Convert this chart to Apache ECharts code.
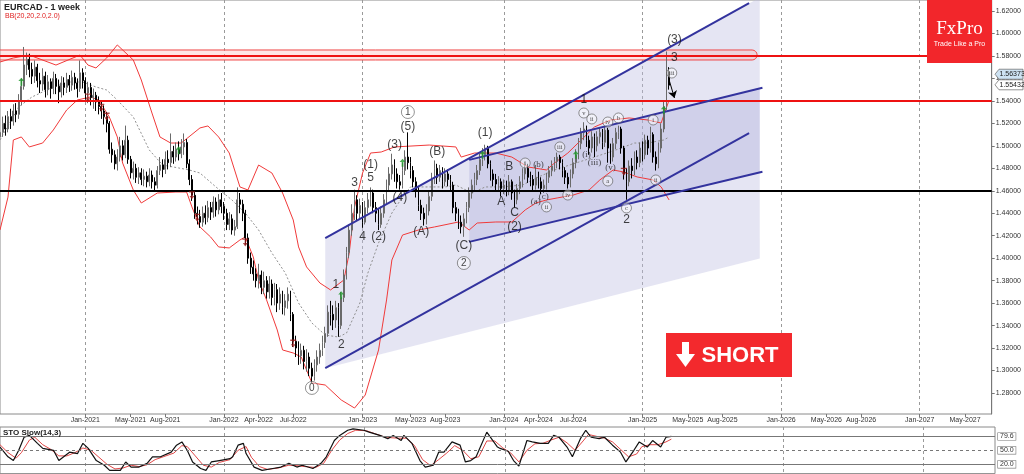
<!DOCTYPE html>
<html><head><meta charset="utf-8">
<script src="https://cdn.jsdelivr.net/npm/echarts/dist/echarts.min.js"></script>
<style>html,body{margin:0;padding:0;background:#fff}#c{width:1024px;height:474px}</style>
</head><body><div id="c"></div>
<script>
// ---------- data ----------
const firstWeek = '2020-05-24';
const weekCount = 373;
const xTickLabels = [['2021-01-03','Jan-2021'],['2021-05-02','May-2021'],['2021-08-01','Aug-2021'],['2022-01-02','Jan-2022'],['2022-04-03','Apr-2022'],['2022-07-03','Jul-2022'],['2023-01-01','Jan-2023'],['2023-05-07','May-2023'],['2023-08-06','Aug-2023'],['2024-01-07','Jan-2024'],['2024-04-07','Apr-2024'],['2024-07-07','Jul-2024'],['2025-01-05','Jan-2025'],['2025-05-04','May-2025'],['2025-08-03','Aug-2025'],['2026-01-04','Jan-2026'],['2026-05-03','May-2026'],['2026-08-02','Aug-2026'],['2027-01-03','Jan-2027'],['2027-05-02','May-2027']];
const yearLines = ['2021-01-03','2022-01-02','2023-01-01','2024-01-07','2025-01-05','2026-01-04','2027-01-03'];
const priceTicks = [1.28,1.30,1.32,1.34,1.36,1.38,1.40,1.42,1.44,1.46,1.48,1.50,1.52,1.54,1.56,1.58,1.60,1.62];
const stoTicks = [20,50,79.6];
const priceTags = [1.56373, 1.55432];
// weekly candles: [open, close, low, high]
const ohlc = [
[1.508,1.512,1.503,1.518],[1.512,1.520,1.508,1.526],[1.520,1.515,1.509,1.527],[1.515,1.526,1.512,1.531],[1.526,1.522,1.515,1.533],
[1.522,1.531,1.518,1.537],[1.531,1.528,1.521,1.538],[1.528,1.540,1.524,1.546],[1.540,1.553,1.536,1.560],[1.553,1.572,1.550,1.588],
[1.572,1.577,1.563,1.583],[1.577,1.568,1.561,1.582],[1.568,1.562,1.555,1.574],[1.562,1.570,1.556,1.576],[1.570,1.558,1.552,1.573],
[1.558,1.555,1.547,1.565],[1.555,1.562,1.549,1.569],[1.562,1.550,1.543,1.566],[1.550,1.557,1.545,1.563],[1.557,1.551,1.542,1.560],
[1.551,1.560,1.546,1.566],[1.560,1.553,1.546,1.564],[1.553,1.548,1.538,1.559],[1.548,1.556,1.543,1.562],[1.556,1.552,1.545,1.561],
[1.552,1.559,1.547,1.565],[1.559,1.554,1.548,1.563],[1.554,1.561,1.549,1.567],[1.561,1.556,1.550,1.565],[1.556,1.551,1.543,1.560],
[1.551,1.565,1.548,1.576],[1.565,1.558,1.551,1.569],[1.558,1.547,1.541,1.561],[1.547,1.552,1.538,1.557],[1.552,1.543,1.536,1.556],
[1.543,1.545,1.533,1.551],[1.545,1.539,1.531,1.548],[1.539,1.535,1.528,1.544],[1.535,1.531,1.524,1.540],[1.531,1.526,1.519,1.536],
[1.526,1.520,1.512,1.530],[1.520,1.497,1.493,1.522],[1.497,1.492,1.485,1.503],[1.492,1.484,1.479,1.496],[1.484,1.490,1.478,1.497],
[1.490,1.500,1.486,1.508],[1.500,1.492,1.487,1.505],[1.492,1.505,1.489,1.518],[1.505,1.488,1.484,1.509],[1.488,1.476,1.471,1.491],
[1.476,1.480,1.470,1.486],[1.480,1.472,1.467,1.484],[1.472,1.476,1.466,1.481],[1.476,1.470,1.465,1.480],[1.470,1.473,1.464,1.479],
[1.473,1.468,1.463,1.477],[1.468,1.474,1.464,1.480],[1.474,1.468,1.462,1.478],[1.468,1.465,1.460,1.472],[1.465,1.478,1.462,1.482],
[1.478,1.483,1.474,1.490],[1.483,1.479,1.472,1.488],[1.479,1.488,1.475,1.495],[1.488,1.485,1.479,1.496],[1.485,1.495,1.481,1.511],
[1.495,1.490,1.484,1.500],[1.490,1.497,1.486,1.503],[1.497,1.493,1.487,1.504],[1.493,1.499,1.489,1.506],[1.499,1.503,1.492,1.511],
[1.503,1.484,1.480,1.506],[1.484,1.470,1.465,1.488],[1.470,1.456,1.451,1.474],[1.456,1.440,1.435,1.459],[1.440,1.437,1.430,1.446],
[1.437,1.432,1.427,1.443],[1.432,1.440,1.428,1.446],[1.440,1.436,1.430,1.447],[1.436,1.445,1.432,1.451],[1.445,1.441,1.434,1.450],
[1.441,1.450,1.436,1.455],[1.450,1.443,1.437,1.454],[1.443,1.452,1.439,1.457],[1.452,1.446,1.440,1.458],[1.446,1.440,1.434,1.450],
[1.440,1.430,1.425,1.444],[1.430,1.435,1.425,1.441],[1.435,1.425,1.421,1.439],[1.425,1.428,1.420,1.434],[1.428,1.452,1.426,1.463],
[1.452,1.448,1.440,1.458],[1.448,1.440,1.433,1.452],[1.440,1.418,1.412,1.443],[1.418,1.400,1.395,1.422],[1.400,1.392,1.386,1.405],
[1.392,1.386,1.380,1.398],[1.386,1.380,1.374,1.391],[1.380,1.385,1.373,1.395],[1.385,1.374,1.368,1.389],[1.374,1.380,1.368,1.388],
[1.380,1.370,1.364,1.384],[1.370,1.377,1.364,1.384],[1.377,1.365,1.358,1.381],[1.365,1.372,1.358,1.378],[1.372,1.360,1.352,1.377],
[1.360,1.368,1.354,1.374],[1.368,1.356,1.350,1.371],[1.356,1.362,1.349,1.368],[1.362,1.368,1.355,1.374],[1.368,1.350,1.344,1.371],
[1.350,1.326,1.321,1.352],[1.326,1.320,1.312,1.331],[1.320,1.313,1.305,1.326],[1.313,1.318,1.306,1.324],[1.318,1.308,1.301,1.322],
[1.308,1.312,1.299,1.319],[1.312,1.302,1.295,1.316],[1.302,1.295,1.289,1.307],[1.295,1.305,1.291,1.310],[1.305,1.312,1.299,1.318],
[1.312,1.318,1.306,1.324],[1.318,1.325,1.313,1.331],[1.325,1.333,1.320,1.339],[1.333,1.352,1.330,1.358],[1.352,1.350,1.340,1.362],
[1.350,1.345,1.336,1.358],[1.345,1.356,1.338,1.362],[1.356,1.340,1.330,1.360],[1.340,1.365,1.337,1.370],[1.365,1.385,1.361,1.390],
[1.385,1.405,1.381,1.410],[1.405,1.425,1.400,1.430],[1.425,1.440,1.420,1.448],[1.440,1.452,1.434,1.461],[1.452,1.440,1.433,1.456],
[1.440,1.447,1.435,1.453],[1.447,1.432,1.427,1.450],[1.432,1.445,1.430,1.451],[1.445,1.452,1.440,1.458],[1.452,1.458,1.446,1.463],
[1.458,1.445,1.440,1.461],[1.445,1.440,1.432,1.450],[1.440,1.430,1.425,1.444],[1.430,1.440,1.427,1.446],[1.440,1.452,1.436,1.457],
[1.452,1.465,1.448,1.470],[1.465,1.475,1.460,1.481],[1.475,1.483,1.470,1.493],[1.483,1.475,1.468,1.488],[1.475,1.468,1.462,1.480],
[1.468,1.465,1.461,1.474],[1.465,1.478,1.462,1.485],[1.478,1.490,1.474,1.496],[1.490,1.485,1.479,1.512],[1.485,1.478,1.471,1.490],
[1.478,1.468,1.463,1.482],[1.468,1.460,1.454,1.472],[1.460,1.447,1.442,1.463],[1.447,1.440,1.434,1.452],[1.440,1.435,1.429,1.445],
[1.435,1.442,1.430,1.448],[1.442,1.455,1.438,1.460],[1.455,1.470,1.451,1.476],[1.470,1.480,1.466,1.487],[1.480,1.472,1.466,1.484],
[1.472,1.478,1.468,1.483],[1.478,1.468,1.462,1.481],[1.468,1.475,1.464,1.480],[1.475,1.470,1.464,1.479],[1.470,1.465,1.459,1.474],
[1.465,1.445,1.440,1.468],[1.445,1.440,1.433,1.450],[1.440,1.432,1.426,1.444],[1.432,1.428,1.422,1.438],[1.428,1.435,1.419,1.440],
[1.435,1.445,1.431,1.450],[1.445,1.458,1.441,1.463],[1.458,1.465,1.453,1.470],[1.465,1.470,1.460,1.476],[1.470,1.478,1.465,1.483],
[1.478,1.488,1.474,1.493],[1.488,1.492,1.482,1.498],[1.492,1.498,1.487,1.501],[1.498,1.484,1.480,1.500],[1.484,1.475,1.469,1.487],
[1.475,1.470,1.464,1.479],[1.470,1.466,1.460,1.475],[1.466,1.468,1.460,1.473],[1.468,1.462,1.455,1.471],[1.462,1.465,1.457,1.470],
[1.465,1.460,1.455,1.469],[1.460,1.468,1.456,1.474],[1.468,1.458,1.452,1.470],[1.458,1.452,1.445,1.461],[1.452,1.462,1.448,1.466],
[1.462,1.468,1.457,1.473],[1.468,1.475,1.463,1.480],[1.475,1.480,1.470,1.486],[1.480,1.472,1.467,1.484],[1.472,1.470,1.464,1.477],
[1.470,1.465,1.460,1.474],[1.465,1.472,1.461,1.483],[1.472,1.468,1.462,1.477],[1.468,1.462,1.457,1.472],[1.462,1.465,1.458,1.470],
[1.465,1.472,1.461,1.476],[1.472,1.478,1.467,1.482],[1.478,1.482,1.473,1.487],[1.482,1.486,1.477,1.490],[1.486,1.490,1.480,1.494],
[1.490,1.485,1.479,1.492],[1.485,1.478,1.472,1.488],[1.478,1.472,1.466,1.481],[1.472,1.466,1.462,1.476],[1.466,1.475,1.463,1.479],
[1.475,1.485,1.471,1.489],[1.485,1.492,1.480,1.497],[1.492,1.502,1.488,1.507],[1.502,1.512,1.497,1.516],[1.512,1.515,1.505,1.521],
[1.515,1.505,1.499,1.518],[1.505,1.498,1.492,1.509],[1.498,1.508,1.494,1.513],[1.508,1.500,1.490,1.511],[1.500,1.508,1.495,1.513],
[1.508,1.512,1.502,1.516],[1.512,1.503,1.497,1.515],[1.503,1.514,1.499,1.517],[1.514,1.498,1.485,1.516],[1.498,1.490,1.484,1.502],
[1.490,1.502,1.486,1.507],[1.502,1.512,1.497,1.516],[1.512,1.515,1.506,1.518],[1.515,1.498,1.493,1.517],[1.498,1.475,1.470,1.500],
[1.475,1.468,1.452,1.480],[1.468,1.482,1.464,1.487],[1.482,1.478,1.471,1.489],[1.478,1.490,1.474,1.495],[1.490,1.485,1.479,1.496],
[1.485,1.498,1.481,1.503],[1.498,1.492,1.486,1.504],[1.492,1.505,1.488,1.510],[1.505,1.498,1.492,1.509],[1.498,1.510,1.494,1.517],
[1.510,1.490,1.485,1.512],[1.490,1.484,1.478,1.495],[1.484,1.498,1.480,1.503],[1.498,1.515,1.494,1.520],[1.515,1.535,1.512,1.540],
[1.535,1.566,1.532,1.584],[1.566,1.554,1.550,1.570]
];
// Bollinger bands: [week index, price]
const bbUpper = [[0,1.5746],[5,1.5782],[11,1.5808],[21,1.5719],[30,1.5808],[33,1.5719],[36,1.5693],[40,1.5782],[44,1.5898],[50,1.5764],[53,1.5586],[57,1.5292],[60,1.5079],[64,1.5025],[68,1.5025],[75,1.5159],[78,1.5177],[82,1.5079],[86,1.4936],[90,1.4634],[93,1.4607],[97,1.4829],[102,1.4758],[106,1.4580],[110,1.4340],[112,1.4100],[115,1.3922],[120,1.3779],[124,1.3717],[129,1.3806],[131,1.4046],[133,1.4456],[136,1.4758],[139,1.4936],[143,1.4945],[148,1.4990],[161,1.5007],[171,1.4990],[173,1.4900],[178,1.4936],[186,1.4936],[192,1.4900],[198,1.4812],[205,1.4785],[208,1.4847],[213,1.4936],[218,1.5052],[223,1.5168],[229,1.5230],[236,1.5248],[243,1.5230],[248,1.5203],[251,1.5408]];
const bbMid = [[0,1.5052],[7,1.5346],[12,1.5435],[20,1.5524],[26,1.5568],[31,1.5568],[36,1.5524],[40,1.5497],[44,1.5408],[50,1.5257],[56,1.4963],[61,1.4829],[67,1.4803],[71,1.4785],[75,1.4758],[81,1.4634],[87,1.4518],[92,1.4402],[97,1.4251],[102,1.4046],[107,1.3868],[112,1.3601],[117,1.3423],[122,1.3316],[127,1.3298],[130,1.3334],[135,1.3601],[138,1.3868],[142,1.4135],[147,1.4402],[151,1.4545],[154,1.4634],[161,1.4634],[167,1.4634],[171,1.4651],[177,1.4580],[182,1.4634],[188,1.4634],[196,1.4651],[202,1.4723],[208,1.4785],[216,1.4847],[223,1.4900],[231,1.4963],[238,1.5025],[243,1.5025],[249,1.5052],[251,1.5079]];
const bbLower = [[0,1.4251],[3,1.4544],[5,1.5052],[8,1.5079],[11,1.4990],[16,1.5025],[20,1.5141],[25,1.5319],[29,1.5408],[34,1.5435],[37,1.5408],[41,1.5257],[44,1.5079],[46,1.4847],[50,1.4607],[53,1.4491],[59,1.4580],[66,1.4589],[70,1.4589],[72,1.4456],[75,1.4278],[79,1.4189],[82,1.4100],[86,1.4091],[90,1.4162],[92,1.4189],[95,1.4011],[97,1.3806],[100,1.3628],[104,1.3361],[106,1.3183],[110,1.3156],[113,1.3120],[117,1.2889],[122,1.2871],[128,1.2738],[133,1.2666],[137,1.2782],[142,1.3183],[145,1.3628],[147,1.3984],[151,1.4206],[157,1.4251],[163,1.4278],[172,1.4322],[176,1.4251],[179,1.4313],[186,1.4322],[192,1.4322],[197,1.4429],[201,1.4491],[205,1.4518],[209,1.4536],[215,1.4562],[221,1.4607],[225,1.4696],[230,1.4785],[234,1.4767],[239,1.4723],[245,1.4696],[248,1.4634],[251,1.4518]];
// Stochastic slow (14,3): [week index, value]
const stoK = [[0,57],[3,36],[5,28],[7,50],[9,78],[11,82],[14,65],[16,54],[20,50],[22,28],[26,46],[29,43],[31,65],[33,54],[36,28],[39,18],[41,7],[45,7],[47,25],[49,14],[52,14],[55,22],[57,36],[60,36],[64,46],[66,61],[68,68],[70,50],[72,25],[75,11],[77,7],[79,25],[82,28],[86,32],[87,36],[89,61],[91,65],[92,43],[95,14],[98,7],[102,11],[105,14],[108,22],[111,14],[113,18],[117,11],[120,22],[122,36],[125,71],[127,82],[130,93],[132,96],[136,93],[138,89],[142,82],[145,75],[147,82],[150,71],[151,82],[154,65],[157,28],[159,14],[162,18],[164,46],[166,46],[169,68],[172,61],[174,25],[176,28],[178,36],[182,89],[186,57],[187,54],[190,48],[192,28],[194,16],[197,71],[199,68],[202,65],[205,65],[207,82],[209,78],[212,57],[214,36],[217,75],[219,93],[221,78],[224,75],[226,78],[229,61],[232,46],[234,25],[237,50],[239,68],[242,57],[244,71],[247,57],[249,78],[251,80]];
const stoD = [[0,62],[3,45],[6,33],[8,45],[11,72],[13,78],[16,62],[19,52],[22,38],[25,38],[28,45],[31,55],[34,50],[37,35],[40,20],[43,10],[46,12],[49,18],[52,15],[55,19],[58,30],[61,36],[65,44],[68,60],[70,58],[73,38],[76,18],[79,14],[82,24],[86,30],[89,50],[92,58],[94,35],[97,15],[100,9],[104,12],[108,18],[111,17],[114,15],[118,13],[121,22],[124,50],[127,72],[130,86],[133,93],[137,92],[140,86],[143,80],[146,77],[149,76],[152,76],[155,60],[158,30],[161,17],[164,30],[167,44],[170,60],[173,50],[176,32],[179,36],[182,70],[185,70],[188,55],[191,44],[194,25],[197,50],[200,64],[203,65],[206,72],[209,78],[212,66],[215,50],[218,70],[220,84],[223,80],[226,76],[229,68],[232,52],[235,36],[238,42],[240,58],[243,62],[246,62],[249,68],[251,74]];
const buySignals = [[8,1.557],[67,1.496],[128,1.367],[151,1.485],[181,1.492],[216,1.492],[249,1.532]];
const sellSignals = [[33,1.543],[38,1.534],[40,1.526],[72,1.456],[74,1.436],[92,1.414],[110,1.324],[234,1.477]];
const redLevels = [1.58, 1.54];
const blackLevels = [1.46];
const resistanceZone = [[0,1.5853,284,1.5764]];
const channelFills = [[122,1.4178,285,1.6320,285,1.3998,122,1.3021],[176,1.4875,285,1.5510,285,1.4763,176,1.4145]];
const channelLines = [[122,1.4178,281,1.6270],[122,1.3021,281,1.5113],[176,1.4875,286,1.5517],[176,1.4145,286,1.4769]];
const projectionArrow = [[251,1.5586],[253,1.5426]];
// wave labels: [week index, price, text]
const waveBig = [[128,1.3227,'2'],[126,1.3761,'1'],[133,1.4669,'3'],[136,1.4189,'4'],[139,1.4714,'5'],[139,1.4829,'(1)'],[142,1.4189,'(2)'],[148,1.5007,'(3)'],[150,1.4536,'(4)'],[153,1.5168,'(5)'],[158,1.4233,'(A)'],[164,1.4945,'(B)'],[174,1.4108,'(C)'],[182,1.5114,'(1)'],[188,1.4500,'A'],[191,1.4812,'B'],[193,1.4402,'C'],[193,1.4278,'(2)'],[219,1.5408,'1'],[235,1.4340,'2'],[253,1.5942,'(3)'],[253,1.5782,'3']];
const waveBigCircled = [[117,1.2845,'0'],[153,1.5301,'1'],[174,1.3957,'2']];
const waveSmall = [[202,1.4829,'(b)'],[201,1.4500,'(a)'],[204,1.4545,'(c)'],[220,1.4918,'(i)'],[223,1.4847,'(iii)'],[229,1.4803,'(v)']];
const waveSmallCircled = [[197,1.4847,'i'],[205,1.4456,'ii'],[210,1.4990,'iii'],[213,1.4562,'iv'],[219,1.5292,'v'],[222,1.5239,'ii'],[228,1.5212,'iv'],[228,1.4687,'a'],[232,1.5248,'b'],[235,1.4447,'c'],[245,1.5230,'i'],[246,1.4696,'ii'],[252,1.5648,'iii']];

// ---------- build ----------
const cats = [];
{ const t0 = Date.parse(firstWeek + 'T00:00:00Z');
  for (let i = 0; i < weekCount; i++) cats.push(new Date(t0 + i * 7 * 86400000).toISOString().slice(0, 10)); }
const labelMap = {}; xTickLabels.forEach(d => labelMap[d[0]] = d[1]);
const yearSet = new Set(yearLines);
const FONT = 'Liberation Sans, Arial, sans-serif';
const chart = echarts.init(document.getElementById('c'), null, {renderer: 'canvas'});

function polyRender(params, api) {
  const pts = [];
  for (let k = 0; k < 4; k++) pts.push(api.coord([api.value(2 * k), api.value(2 * k + 1)]));
  const fills = ['rgba(190,190,226,0.40)', 'rgba(165,165,215,0.32)'];
  return {type: 'polygon', shape: {points: pts}, style: {fill: fills[params.dataIndex], stroke: null}};
}
function lineRender(params, api) {
  const a = api.coord([api.value(0), api.value(1)]);
  const b = api.coord([api.value(2), api.value(3)]);
  return {type: 'line', shape: {x1: a[0], y1: a[1], x2: b[0], y2: b[1]}, style: {stroke: '#33339e', lineWidth: 2}};
}
function zoneRender(params, api) {
  const a = api.coord([api.value(0), api.value(1)]);
  const b = api.coord([api.value(2), api.value(3)]);
  const h = b[1] - a[1];
  return {type: 'rect', shape: {x: a[0] - 10, y: a[1], width: b[0] - a[0] + 10, height: h, r: h / 2},
          style: {fill: 'rgba(255,170,170,0.30)', stroke: '#f04848', lineWidth: 1}};
}
const lbl = arr => arr.map(d => ({value: [d[0], d[1]], name: d[2]}));
const upArrow = 'path://M5,0 L10,5 L6.5,5 L6.5,12 L3.5,12 L3.5,5 L0,5 Z';
const dnArrow = 'path://M0,0 L10,0 L10,2 L6,2 L6,7 L9,7 L5,12 L1,7 L4,7 L4,2 L0,2 Z';

const option = {
  animation: false,
  textStyle: {fontFamily: FONT},
  grid: [
    {left: 0, top: 0, width: 995, height: 414, show: true, borderColor: '#8a8a8a', borderWidth: 1, backgroundColor: 'transparent'},
    {left: 0, top: 427, width: 995, height: 46.6, show: true, borderColor: '#8a8a8a', borderWidth: 1, backgroundColor: 'transparent'}
  ],
  xAxis: [
    {type: 'category', gridIndex: 0, data: cats, boundaryGap: false,
     axisLine: {show: false},
     axisTick: {show: true, interval: (i, v) => !!labelMap[v], length: 3, inside: false, lineStyle: {color: '#777'}},
     axisLabel: {interval: (i, v) => !!labelMap[v], formatter: v => labelMap[v] || '', fontSize: 7, color: '#333', margin: 3, fontFamily: FONT},
     splitLine: {show: true, interval: (i, v) => yearSet.has(v), lineStyle: {color: '#9a9a9a', type: [3, 3], width: 1}}},
    {type: 'category', gridIndex: 1, data: cats, boundaryGap: false,
     axisLine: {show: false}, axisTick: {show: false}, axisLabel: {show: false},
     splitLine: {show: true, interval: (i, v) => yearSet.has(v), lineStyle: {color: '#9a9a9a', type: [3, 3], width: 1}}}
  ],
  yAxis: [
    {type: 'value', gridIndex: 0, position: 'right', min: 1.2613, max: 1.6298, scale: true,
     axisLine: {show: true, lineStyle: {color: '#777'}},
     axisTick: {show: true, customValues: priceTicks, length: 3, lineStyle: {color: '#777'}},
     axisLabel: {customValues: priceTicks, formatter: v => v.toFixed(5), fontSize: 7, color: '#333', margin: 4, fontFamily: FONT},
     splitLine: {show: false}},
    {type: 'value', gridIndex: 1, position: 'right', min: 0, max: 100,
     axisLine: {show: false}, axisTick: {show: false},
     axisLabel: {customValues: stoTicks, formatter: v => v.toFixed(1), fontSize: 7, color: '#333', margin: 3,
                 backgroundColor: '#fff', borderColor: '#777', borderWidth: 0.6, padding: [0, 2], fontFamily: FONT},
     splitLine: {show: false}}
  ],
  series: [
    {type: 'custom', name: 'fills', xAxisIndex: 0, yAxisIndex: 0, renderItem: polyRender, data: channelFills, z: 1, silent: true,
     encode: {x: [0, 2, 4, 6], y: [1, 3, 5, 7]}},
    {type: 'custom', name: 'zone', xAxisIndex: 0, yAxisIndex: 0, renderItem: zoneRender, data: resistanceZone, z: 2, silent: true,
     encode: {x: [0, 2], y: [1, 3]}},
    {type: 'line', name: 'bbMid', data: bbMid, symbol: 'none', lineStyle: {color: '#909090', width: 1, type: [2, 2]}, z: 3, silent: true},
    {type: 'line', name: 'bbUp', data: bbUpper, symbol: 'none', lineStyle: {color: '#f03a3a', width: 1}, z: 3, silent: true},
    {type: 'line', name: 'bbLow', data: bbLower, symbol: 'none', lineStyle: {color: '#f03a3a', width: 1}, z: 3, silent: true},
    {type: 'candlestick', name: 'EURCAD', data: ohlc, barMaxWidth: 2, z: 4,
     itemStyle: {color: '#ffffff', borderColor: '#6a6a6a', color0: '#000000', borderColor0: '#000000', borderWidth: 1},
     markLine: {silent: true, symbol: 'none', label: {show: false}, animation: false,
       data: redLevels.map(v => ({yAxis: v, lineStyle: {color: '#ee1111', width: 2, type: 'solid'}}))
        .concat(blackLevels.map(v => ({yAxis: v, lineStyle: {color: '#000', width: 2, type: 'solid'}})))
        .concat([[{coord: projectionArrow[0], symbol: 'none'}, {coord: projectionArrow[1], symbol: 'arrow', symbolSize: 7, lineStyle: {color: '#000', width: 1, type: 'solid'}}]])}},
    {type: 'custom', name: 'channels', renderItem: lineRender, data: channelLines, z: 5, silent: true, encode: {x: [0, 2], y: [1, 3]}},
    {type: 'scatter', name: 'buy', data: buySignals, symbol: upArrow, symbolSize: [6, 8], itemStyle: {color: '#1f9a2a'}, z: 6, silent: true},
    {type: 'scatter', name: 'sell', data: sellSignals, symbol: dnArrow, symbolSize: [6, 8], itemStyle: {color: '#9b1c1c'}, z: 6, silent: true},
    {type: 'scatter', name: 'wavesBig', data: lbl(waveBig), symbolSize: 0, z: 7, silent: true,
     label: {show: true, position: 'inside', formatter: '{b}', fontSize: 12, color: '#111', fontFamily: FONT}},
    {type: 'scatter', name: 'wavesBigC', data: lbl(waveBigCircled), symbol: 'circle', symbolSize: 13, z: 7, silent: true,
     itemStyle: {color: 'rgba(255,255,255,0.6)', borderColor: '#555', borderWidth: 0.8},
     label: {show: true, position: 'inside', formatter: '{b}', fontSize: 10, color: '#111', fontFamily: FONT}},
    {type: 'scatter', name: 'wavesSmall', data: lbl(waveSmall), symbolSize: 0, z: 7, silent: true,
     label: {show: true, position: 'inside', formatter: '{b}', fontSize: 9, color: '#222', fontFamily: 'Liberation Serif, serif'}},
    {type: 'scatter', name: 'wavesSmallC', data: lbl(waveSmallCircled), symbol: 'circle', symbolSize: 10, z: 7, silent: true,
     itemStyle: {color: 'rgba(255,255,255,0.6)', borderColor: '#555', borderWidth: 0.8},
     label: {show: true, position: 'inside', formatter: '{b}', fontSize: 6.5, color: '#222', fontFamily: 'Liberation Serif, serif'}},
    {type: 'line', name: 'stoD', xAxisIndex: 1, yAxisIndex: 1, data: stoD, symbol: 'none', lineStyle: {color: '#e04848', width: 1}, z: 3, silent: true},
    {type: 'line', name: 'stoK', xAxisIndex: 1, yAxisIndex: 1, data: stoK, symbol: 'none', lineStyle: {color: '#111', width: 1.2}, z: 4, silent: true,
     markLine: {silent: true, symbol: 'none', label: {show: false},
       data: [{yAxis: 80, lineStyle: {color: '#777', width: 1, type: 'solid'}}, {yAxis: 50, lineStyle: {color: '#777', width: 1, type: [3, 3]}}, {yAxis: 20, lineStyle: {color: '#777', width: 1, type: 'solid'}}]}}
  ],
  graphic: []
};
chart.setOption(option);

const g = [
  {type: 'text', left: 4, top: 3, style: {text: 'EURCAD - 1 week', font: 'bold 9px ' + FONT, fill: '#222'}, z: 100},
  {type: 'text', left: 5, top: 13, style: {text: 'BB(20,20,2.0,2.0)', font: '7px ' + FONT, fill: '#e02020'}, z: 100},
  {type: 'text', left: 3, top: 429, style: {text: 'STO Slow(14,3)', font: 'bold 8px ' + FONT, fill: '#222'}, z: 100},
  {type: 'rect', shape: {x: 927, y: 0, width: 65, height: 63}, style: {fill: '#f2262b'}, z: 100},
  {type: 'text', x: 959.5, y: 29, style: {text: 'FxPro', font: '19px Liberation Serif, serif', fill: '#fff', textAlign: 'center', textVerticalAlign: 'middle'}, z: 101},
  {type: 'text', x: 959.5, y: 44, style: {text: 'Trade Like a Pro', font: '7px ' + FONT, fill: '#fff', textAlign: 'center', textVerticalAlign: 'middle'}, z: 101},
  {type: 'rect', shape: {x: 666, y: 333, width: 126, height: 44}, style: {fill: '#f3292d'}, z: 100},
  {type: 'rect', shape: {x: 682, y: 342, width: 7, height: 13}, style: {fill: '#fff'}, z: 101},
  {type: 'polygon', shape: {points: [[676, 354], [695, 354], [685.5, 367]]}, style: {fill: '#fff'}, z: 101},
  {type: 'text', x: 740, y: 355.5, style: {text: 'SHORT', font: 'bold 22px ' + FONT, fill: '#fff', textAlign: 'center', textVerticalAlign: 'middle'}, z: 101}
];
const tagFill = ['#cde2f2', '#ffffff'];
priceTags.forEach((p, i) => {
  const y = chart.convertToPixel({yAxisIndex: 0}, p);
  g.push({type: 'polygon', shape: {points: [[995, y], [999, y - 5], [1023, y - 5], [1023, y + 5], [999, y + 5]]},
          style: {fill: tagFill[i], stroke: '#666', lineWidth: 0.7}, z: 100});
  g.push({type: 'text', x: 999.5, y: y, style: {text: p.toFixed(5), font: '7px ' + FONT, fill: '#222', textVerticalAlign: 'middle'}, z: 101});
});
chart.setOption({graphic: g});
</script></body></html>
